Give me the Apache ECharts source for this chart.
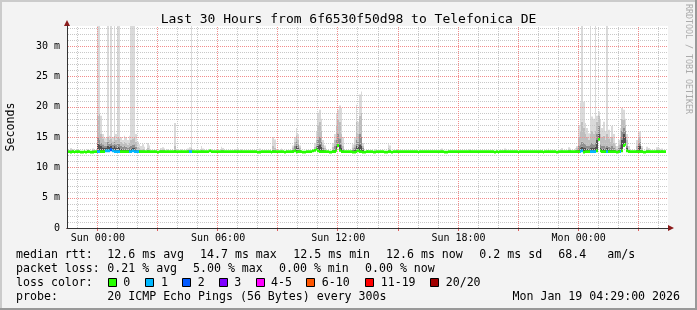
<!DOCTYPE html>
<html><head><meta charset="utf-8">
<script src="https://cdn.jsdelivr.net/npm/echarts@6/dist/echarts.min.js"></script>
<style>html,body{margin:0;padding:0;background:#f3f3f3}#c{width:697px;height:310px}</style>
</head><body><div id="c"></div>
<script>
// ---------- DATA ----------
const titleText = 'Last 30 Hours from 6f6530f50d98 to Telefonica DE';
const yAxisTitle = 'Seconds';
const xTickLabels = ['Sun 00:00', 'Sun 06:00', 'Sun 12:00', 'Sun 18:00', 'Mon 00:00'];
const yTickLabels = ['0', '5 m', '10 m', '15 m', '20 m', '25 m', '30 m'];
const dayNames = ['Sat', 'Sun', 'Mon'];
// 5-minute steps starting Sat 22:30
const categories = [];
for (let i = 0; i < 360; i++) {
  const t = 22 * 60 + 30 + 5 * i;
  const d = Math.floor(t / 1440), m = t % 1440;
  categories.push(dayNames[d] + ' ' + String(Math.floor(m / 60)).padStart(2, '0') + ':' + String(m % 60).padStart(2, '0'));
}
// median rtt (ms) per step
const median = [
12.6,12.6,12.5,12.6,12.5,12.6,12.6,12.6,12.5,12.5,12.6,12.5,12.6,12.6,12.5,12.5,12.6,12.6,12.6,12.6,
12.6,12.6,12.6,12.7,12.7,12.7,12.9,12.7,12.6,12.6,12.6,12.6,12.6,12.6,12.6,12.6,12.6,12.6,12.6,12.7,
12.6,12.6,12.6,12.6,12.6,12.6,12.6,12.6,12.6,12.6,12.6,12.6,12.6,12.6,12.5,12.6,12.6,12.6,12.6,12.6,
12.6,12.6,12.6,12.6,12.6,12.6,12.6,12.6,12.6,12.6,12.6,12.6,12.6,12.6,12.6,12.6,12.6,12.6,12.6,12.6,
12.6,12.6,12.6,12.6,12.6,12.7,12.6,12.6,12.6,12.6,12.6,12.6,12.6,12.6,12.6,12.6,12.6,12.6,12.6,12.6,
12.6,12.6,12.6,12.6,12.6,12.6,12.6,12.6,12.6,12.6,12.6,12.6,12.6,12.6,12.5,12.5,12.6,12.6,12.6,12.6,
12.6,12.6,12.5,12.6,12.6,12.6,12.6,12.6,12.6,12.6,12.5,12.6,12.6,12.6,12.6,12.6,12.7,12.5,12.6,12.6,
12.6,12.5,12.5,12.6,12.6,12.6,12.6,12.7,12.8,13.0,12.7,12.6,12.6,12.6,12.6,12.6,12.6,12.5,12.5,12.6,
12.6,12.8,13.6,12.8,12.6,12.6,12.6,12.6,12.6,12.6,12.6,12.5,12.5,12.6,12.7,12.6,12.6,12.5,12.5,12.6,
12.6,12.6,12.6,12.5,12.5,12.6,12.6,12.6,12.6,12.6,12.5,12.5,12.6,12.6,12.5,12.6,12.6,12.6,12.6,12.6,
12.6,12.6,12.6,12.6,12.6,12.6,12.6,12.6,12.6,12.6,12.5,12.6,12.6,12.6,12.6,12.6,12.6,12.6,12.6,12.6,
12.6,12.6,12.6,12.6,12.6,12.6,12.5,12.5,12.6,12.6,12.6,12.6,12.6,12.6,12.6,12.6,12.6,12.6,12.6,12.6,
12.6,12.6,12.6,12.6,12.6,12.6,12.6,12.6,12.6,12.6,12.6,12.6,12.6,12.6,12.6,12.6,12.5,12.6,12.5,12.6,
12.6,12.6,12.6,12.6,12.6,12.6,12.6,12.6,12.6,12.6,12.5,12.6,12.6,12.6,12.6,12.6,12.6,12.6,12.6,12.6,
12.6,12.6,12.6,12.6,12.6,12.5,12.6,12.6,12.6,12.6,12.6,12.6,12.6,12.5,12.6,12.6,12.6,12.6,12.6,12.6,
12.6,12.6,12.6,12.6,12.6,12.6,12.6,12.6,12.7,12.5,12.6,12.6,12.6,12.6,12.6,12.6,12.6,12.7,14.6,12.7,
12.6,12.6,12.6,12.6,12.6,12.6,12.6,12.6,12.6,12.5,12.6,12.6,12.7,13.6,13.8,12.7,12.6,12.6,12.6,12.6,
12.6,12.6,12.6,12.6,12.6,12.5,12.5,12.6,12.6,12.6,12.6,12.6,12.6,12.6,12.6,12.6,12.6,12.6,12.6,null
];
// smoke rows: [step, dark top, mid top, light top, max ping] (ms); steps not listed show no smoke
const smokeRows = [
[2,12.7,12.8,13.0,13.2],[3,12.7,12.8,12.9,13.0],[6,12.7,12.7,12.8,12.9],[12,12.7,12.8,12.9,13.0],[15,12.7,12.8,12.9,13.1],
[18,14.0,15.0,18.5,40],[19,13.8,14.5,18.8,40],[20,13.5,14.0,15.5,18.5],[21,13.3,13.8,14.8,15.5],[22,13.2,13.6,14.3,15.0],
[23,13.2,13.6,14.2,14.8],[24,13.6,14.2,15.0,40],[25,13.4,13.9,14.6,15.2],[26,13.5,14.0,14.8,40],[27,13.2,13.7,14.3,15.0],
[28,13.5,14.2,15.2,40],[29,13.3,13.8,14.6,15.5],[30,13.4,14.0,15.0,40],[31,13.3,13.9,14.8,40],[32,13.1,13.5,14.2,15.0],
[33,13.0,13.4,13.9,14.5],[34,13.1,13.5,14.2,15.2],[35,13.0,13.4,14.0,15.0],[36,12.9,13.2,13.7,14.5],[37,13.0,13.4,14.0,15.2],
[38,13.1,13.6,14.5,40],[39,13.2,13.7,14.8,40],[40,13.2,13.8,15.0,40],[41,13.0,13.4,14.2,15.5],[42,12.8,13.0,13.4,14.2],
[43,12.7,12.9,13.2,13.8],[44,12.7,12.8,13.0,13.5],[45,12.7,12.8,13.1,13.8],[46,12.7,12.8,13.0,13.4],[48,12.7,12.9,13.2,14.0],
[49,12.7,12.8,13.0,13.6],[52,12.7,12.7,12.8,13.0],[56,12.7,12.8,12.9,13.2],[57,12.7,12.8,13.0,13.3],[58,12.7,12.8,12.9,13.1],
[60,12.7,12.7,12.8,13.0],[64,12.7,12.9,13.5,17.3],[68,12.7,12.7,12.8,13.0],
[72,12.7,12.8,12.9,13.1],[73,12.7,12.8,13.0,13.3],[74,12.7,12.8,13.2,40],[75,12.7,12.7,12.8,13.0],[80,12.7,12.8,13.0,13.5],
[81,12.7,12.7,12.8,13.1],[86,12.7,12.7,12.8,13.0],[92,12.7,12.8,13.0,13.4],[93,12.7,12.8,12.9,13.2],[100,12.7,12.7,12.8,13.0],
[102,12.7,12.7,12.8,13.1],[104,12.7,12.7,12.8,13.0],[115,12.7,12.7,12.8,13.1],[123,12.7,12.9,13.5,15.0],[124,12.7,12.8,13.2,14.6],
[128,12.7,12.7,12.8,13.1],[131,12.7,12.7,12.8,13.0],[135,12.8,13.0,13.3,13.6],[136,13.0,13.5,14.2,15.0],[137,13.6,14.3,15.3,16.5],
[138,13.2,13.8,14.6,15.5],[139,12.8,13.0,13.3,13.6],
[148,12.8,13.0,13.4,14.0],[149,13.0,13.6,14.5,16.0],[150,13.5,14.5,17.0,19.0],[151,13.8,15.0,17.5,19.5],[152,13.4,14.2,16.0,18.0],
[153,12.9,13.2,13.8,14.5],[154,12.7,12.9,13.2,13.6],[159,12.8,13.0,13.4,14.0],[160,13.0,13.5,14.5,15.5],[161,13.6,14.5,17.0,18.9],
[162,14.0,15.5,18.0,19.5],[163,13.7,14.8,17.5,20.2],[164,13.2,13.8,15.5,19.8],[165,12.8,13.0,13.5,15.0],[171,12.8,13.0,13.3,13.8],
[172,13.0,13.3,13.8,15.0],[173,13.5,14.5,17.5,20.3],[174,13.4,14.2,15.5,17.5],[175,13.8,15.5,18.5,22.0],[176,13.5,15.0,19.0,22.5],
[177,12.9,13.2,13.5,14.0],[184,12.7,12.7,12.8,13.0],[192,12.7,12.8,13.2,13.8],[193,12.7,12.8,13.1,13.6],[197,12.7,12.7,12.8,13.0],
[224,12.7,12.7,12.8,13.1],[241,12.7,12.7,12.8,13.0],[262,12.7,12.7,12.8,13.1],[288,12.7,12.7,12.8,13.1],[296,12.7,12.7,12.8,13.2],
[300,12.7,12.8,13.0,13.3],[301,12.7,12.8,12.9,13.1],[304,12.7,12.8,12.9,13.2],[305,12.8,13.0,13.3,13.5],[306,13.0,13.5,15.0,17.0],
[307,13.2,13.8,16.0,20.7],[308,13.4,14.2,17.5,40],[309,13.3,14.0,16.5,20.8],[310,13.2,13.8,15.5,17.3],[311,13.1,13.6,15.0,16.5],
[312,13.0,13.5,14.5,15.6],[313,13.2,13.8,15.5,40],[314,13.3,14.0,16.0,18.4],[315,13.2,13.8,15.5,18.0],[316,13.4,14.0,16.0,40],
[317,14.5,15.5,17.5,18.5],[318,15.5,16.8,18.5,19.2],[319,13.2,13.8,15.5,17.8],[320,13.1,13.6,15.0,16.5],[321,13.1,13.5,15.2,17.5],
[322,13.0,13.3,14.5,16.0],[323,13.2,13.6,15.5,40],[324,13.0,13.4,14.8,16.2],[325,12.9,13.2,14.2,15.0],[326,13.0,13.5,15.0,16.8],
[327,12.9,13.2,14.0,15.5],[328,12.8,13.0,13.5,14.0],[329,12.6,12.8,13.1,13.5],[330,12.9,13.2,13.8,14.5],[331,13.3,13.8,15.0,16.5],
[332,14.5,16.0,18.0,19.8],[333,15.5,16.5,17.8,19.5],[334,15.0,16.0,17.0,18.0],[335,13.2,13.5,14.5,15.5],[336,12.8,12.9,13.0,13.5],
[341,12.8,13.0,13.5,14.5],[342,13.5,14.0,15.0,15.9],[343,13.6,14.2,14.8,15.9],[344,12.8,12.9,13.2,13.5],[347,12.7,12.8,13.0,13.4],
[348,12.7,12.8,12.9,13.2],[353,12.7,12.8,13.0,13.3],[354,12.7,12.8,12.9,13.2],[356,12.7,12.8,12.9,13.1]
];
// steps with 1 of 20 and 2 of 20 pings lost
const loss1Steps = [18,19,23,24,25,27,28,29,30,31,37,38,39,40,41,42,73,74,307,308,313,314,315,316,323,331];
const loss2Steps = [26];
const lossLabels = ['0', '1', '2', '3', '4-5', '6-10', '11-19', '20/20'];
const lossColors = ['#26ff00', '#00b8ff', '#0059ff', '#7e00ff', '#ff00ff', '#ff5500', '#ff0000', '#a10000'];
const statLines = [
  ['median rtt:', ['12.6 ms avg', '14.7 ms max', '12.5 ms min', '12.6 ms now', '0.2 ms sd', '68.4', 'am/s']],
  ['packet loss:', ['0.21 % avg', '5.00 % max', '0.00 % min', '0.00 % now']],
  ['loss color:', []],
  ['probe:', ['20 ICMP Echo Pings (56 Bytes) every 300s']]
];
const dateText = 'Mon Jan 19 04:29:00 2026';
const watermark = 'RRDTOOL / TOBI OETIKER';

// ---------- BUILD ----------
const FONT = 'DejaVu Sans Mono';
const smokeColors = ['#505050', '#909090', '#bebebe', '#dadada'];
const smokeMap = {};
smokeRows.forEach(r => { smokeMap[r[0]] = r; });
const smokeData = [];
median.forEach((m, i) => {
  if (m == null) return;
  const r = smokeMap[i];
  if (r) smokeData.push([i, m, r[1], r[2], r[3], r[4]]);
});
const lossOf = i => loss2Steps.includes(i) ? 2 : (loss1Steps.includes(i) ? 1 : 0);
const medianData = [];
median.forEach((v, i) => { if (v != null) medianData.push([i, v, lossOf(i)]); });

const isHour = i => categories[i].endsWith(':00');
const isMajor = i => isHour(i) && Number(categories[i].slice(4, 6)) % 3 === 0;
const GRAY = '#c8c8c8';
const RED = '#f28c8c';

function bandEdges(api, idx) {
  const c = api.coord([idx, 0]);
  const w = api.size([1, 0])[0];
  return [Math.round(c[0] - w / 2), Math.round(c[0] + w / 2)];
}
const series = [];
series.push({
  type: 'custom', data: smokeData, z: 2, clip: true, silent: true, animation: false,
  encode: { x: 0, y: [1, 2, 3, 4, 5] },
  renderItem: function (params, api) {
    const e = bandEdges(api, api.value(0));
    const vals = [api.value(1), api.value(2), api.value(3), api.value(4), api.value(5)];
    const ys = vals.map(v => api.coord([api.value(0), v])[1]);
    const children = [];
    for (let k = 0; k < 4; k++) {
      if (ys[k] - ys[k + 1] <= 0) continue;
      children.push({ type: 'rect', shape: { x: e[0], y: ys[k + 1], width: Math.max(1, e[1] - e[0]), height: ys[k] - ys[k + 1] },
        style: { fill: smokeColors[k] } });
    }
    return { type: 'group', children: children };
  }
});
series.push({
  type: 'custom', data: medianData, z: 4, clip: true, silent: true, animation: false,
  encode: { x: 0, y: 1 },
  renderItem: function (params, api) {
    const e = bandEdges(api, api.value(0));
    const cy = api.coord([api.value(0), api.value(1)])[1];
    return { type: 'rect', shape: { x: e[0], y: cy - 1.4, width: Math.max(1, e[1] - e[0]), height: 2.8 },
      style: { fill: lossColors[api.value(2)] } };
  }
});

const graphic = [
  { type: 'rect', shape: { x: 0, y: 0, width: 697, height: 2 }, style: { fill: '#cbcbcb' }, silent: true },
  { type: 'rect', shape: { x: 0, y: 0, width: 2, height: 310 }, style: { fill: '#cbcbcb' }, silent: true },
  { type: 'rect', shape: { x: 0, y: 308, width: 697, height: 2 }, style: { fill: '#999999' }, silent: true },
  { type: 'rect', shape: { x: 695, y: 0, width: 2, height: 310 }, style: { fill: '#999999' }, silent: true },
  { type: 'text', x: 348.5, y: 19.5, style: { text: titleText, fontFamily: FONT, fontSize: 13, fill: '#000', align: 'center', verticalAlign: 'middle' } },
  { type: 'text', x: 11, y: 127, rotation: Math.PI / 2, style: { text: yAxisTitle, fontFamily: FONT, fontSize: 11.6, fill: '#000', align: 'center', verticalAlign: 'middle' } },
  { type: 'text', x: 688.5, y: 4, rotation: -Math.PI / 2, style: { text: watermark, fontFamily: FONT, fontSize: 8.3, fill: '#ababab', align: 'left', verticalAlign: 'middle' } }
];
const lineY = [254.7, 268.7, 282.7, 296.7];
const piecesX = [
  [107.3, 200, 293.3, 386, 479.3, 558.3, 607.3],
  [107.3, 193, 279, 365],
  [],
  [107.3]
];
statLines.forEach((ln, li) => {
  graphic.push({ type: 'text', x: 16, y: lineY[li], style: { text: ln[0], fontFamily: FONT, fontSize: 11.6, fill: '#000', align: 'left', verticalAlign: 'middle' } });
  ln[1].forEach((t, j) => {
    graphic.push({ type: 'text', x: piecesX[li][j], y: lineY[li], style: { text: t, fontFamily: FONT, fontSize: 11.6, fill: '#000', align: 'left', verticalAlign: 'middle' } });
  });
});
graphic.push({ type: 'text', x: 680, y: lineY[3], style: { text: dateText, fontFamily: FONT, fontSize: 11.6, fill: '#000', align: 'right', verticalAlign: 'middle' } });
const boxX = [108.5, 145.5, 182.5, 219.5, 256.5, 306.5, 365.5, 430.5];
const boxLabelX = [123.3, 161, 197.7, 234.3, 271, 321.7, 380.7, 445.7];
lossLabels.forEach((lab, k) => {
  graphic.push({ type: 'rect', shape: { x: boxX[k], y: 278.5, width: 8, height: 8 }, style: { fill: lossColors[k], stroke: '#000', lineWidth: 1 } });
  graphic.push({ type: 'text', x: boxLabelX[k], y: lineY[2], style: { text: lab, fontFamily: FONT, fontSize: 11.6, fill: '#000', align: 'left', verticalAlign: 'middle' } });
});

const catBase = { type: 'category', data: categories, boundaryGap: true, position: 'bottom' };
const option = {
  animation: false,
  backgroundColor: '#f3f3f3',
  textStyle: { fontFamily: FONT },
  grid: { left: 67, right: 29, top: 26, bottom: 82, show: true, backgroundColor: '#ffffff', borderWidth: 0 },
  xAxis: [
    Object.assign({}, catBase, { z: 6,
      axisLine: { show: true, onZero: false, lineStyle: { color: '#333', width: 1 } },
      axisTick: { show: false },
      axisLabel: { show: true, interval: (i) => xTickLabels.includes(categories[i]), formatter: (v) => v,
        color: '#000', fontFamily: FONT, fontSize: 10, margin: 5 },
      splitLine: { show: false } }),
    Object.assign({}, catBase, { z: 5,
      axisLine: { show: true, onZero: false, lineStyle: { color: '#8b1a1a', width: 1 }, symbol: ['none', 'triangle'], symbolSize: [6, 6], symbolOffset: [0, 3] },
      axisTick: { show: false }, axisLabel: { show: false }, splitLine: { show: false } })
  ],
  yAxis: [
    { type: 'value', position: 'left', min: 0, max: 33.3, interval: 5, z: 6,
      axisLine: { show: true, onZero: false, lineStyle: { color: '#333', width: 1 } },
      axisTick: { show: false },
      axisLabel: { color: '#000', fontFamily: FONT, fontSize: 10, margin: 7,
        formatter: (v) => { const k = Math.round(v / 5); return Math.abs(v - k * 5) < 1e-6 && yTickLabels[k] ? yTickLabels[k] : ''; } },
      splitLine: { show: false } },
    { type: 'value', position: 'left', min: 0, max: 33.3, interval: 5, z: 5,
      axisLine: { show: true, onZero: false, lineStyle: { color: '#8b1a1a', width: 1 }, symbol: ['none', 'triangle'], symbolSize: [6, 6], symbolOffset: [0, 3] },
      axisTick: { show: false }, axisLabel: { show: false }, splitLine: { show: false } }
  ],
  series: series,
  graphic: graphic
};
const chart = echarts.init(document.getElementById('c'), null, { renderer: 'canvas', devicePixelRatio: 1 });
chart.setOption(option);

// grid lines, positioned through the chart's own axis scales
const px = i => chart.convertToPixel({ xAxisIndex: 0 }, i);
const py = v => chart.convertToPixel({ yAxisIndex: 0 }, v);
const bw = px(1) - px(0);
const leftX = Math.round(px(0) - bw / 2), rightX = Math.round(px(categories.length - 1) + bw / 2);
const topY = Math.round(py(33.3)), botY = Math.round(py(0));
const gridEls = [];
function dottedH(y, color, zz) {
  gridEls.push({ type: 'line', silent: true, z: zz, shape: { x1: leftX + 1, y1: y + 0.5, x2: rightX, y2: y + 0.5 },
    style: { stroke: color, lineWidth: 1, lineDash: [1, 1] } });
}
function dottedV(x, color, zz, tick) {
  gridEls.push({ type: 'line', silent: true, z: zz, shape: { x1: x + 0.5, y1: topY + 1, x2: x + 0.5, y2: botY },
    style: { stroke: color, lineWidth: 1, lineDash: [1, 1] } });
  if (tick) gridEls.push({ type: 'line', silent: true, z: zz, shape: { x1: x + 0.5, y1: botY, x2: x + 0.5, y2: botY + 3 },
    style: { stroke: tick, lineWidth: 1 } });
}
for (let v = 1; v <= 33; v++) if (v % 5 !== 0) dottedH(Math.round(py(v)), GRAY, 3);
categories.forEach((c, i) => { if (isHour(i) && !isMajor(i)) dottedV(Math.round(px(i) - bw / 2), GRAY, 3); });
for (let v = 5; v <= 30; v += 5) dottedH(Math.round(py(v)), RED, 3);
categories.forEach((c, i) => { if (isMajor(i)) dottedV(Math.round(px(i) - bw / 2), RED, 3, '#e06060'); });
chart.setOption({ graphic: graphic.concat(gridEls) });
</script>
</body></html>
